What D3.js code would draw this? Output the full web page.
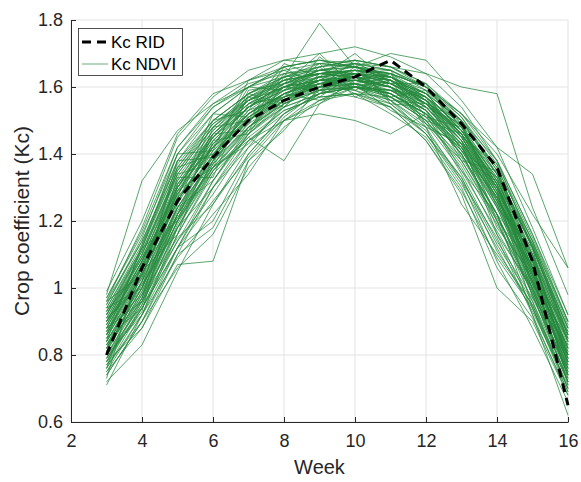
<!DOCTYPE html>
<html>
<head>
<meta charset="utf-8">
<script src="https://cdn.jsdelivr.net/npm/d3@7"></script>
<style>
html,body{margin:0;padding:0;background:#fff;}
svg{display:block;font-family:"Liberation Sans",Arial,Helvetica,sans-serif;}
</style>
</head>
<body>
<svg id="chart" width="581" height="482"></svg>
<script>
// ---- data ----
const weeks = [3,4,5,6,7,8,9,10,11,12,13,14,15,16];
const kcRID = [0.80,1.06,1.26,1.39,1.50,1.56,1.60,1.63,1.68,1.60,1.49,1.36,1.08,0.65];
const kcNDVI = [
  [0.98,1.32,1.47,1.55,1.60,1.66,1.68,1.66,1.62,1.55,1.44,1.25,1.02,0.78],
  [0.72,0.83,1.05,1.25,1.40,1.52,1.60,1.64,1.63,1.58,1.47,1.31,1.06,0.80],
  [0.78,0.88,1.07,1.08,1.38,1.50,1.58,1.60,1.58,1.52,1.42,1.22,0.98,0.72],
  [0.82,0.98,1.20,1.35,1.45,1.38,1.55,1.60,1.62,1.55,1.45,1.28,1.05,0.80],
  [0.90,1.10,1.35,1.48,1.58,1.63,1.79,1.66,1.63,1.58,1.47,1.30,1.08,0.82],
  [0.92,1.12,1.38,1.50,1.58,1.64,1.66,1.68,1.66,1.64,1.60,1.58,1.24,0.98],
  [0.88,1.08,1.30,1.45,1.55,1.62,1.64,1.66,1.65,1.60,1.52,1.42,1.34,1.06],
  [0.80,0.95,1.18,1.35,1.46,1.54,1.58,1.60,1.56,1.48,1.25,1.10,0.95,0.70],
  [0.84,1.02,1.22,1.36,1.44,1.50,1.52,1.50,1.46,1.52,1.40,1.22,1.00,0.74],
  [0.95,1.15,1.42,1.55,1.62,1.68,1.70,1.72,1.69,1.64,1.54,1.38,1.12,0.86],
  [0.93,1.12,1.40,1.52,1.60,1.66,1.68,1.66,1.70,1.68,1.56,1.42,1.18,0.92],
  [0.90,1.06,1.32,1.46,1.56,1.60,1.64,1.65,1.64,1.60,1.52,1.40,1.22,1.06],
  [0.74,0.90,1.10,1.30,1.44,1.52,1.58,1.60,1.58,1.52,1.40,1.22,0.92,0.62],
  [0.76,0.92,1.12,1.30,1.42,1.50,1.56,1.58,1.55,1.46,1.32,1.08,0.88,0.66],
  [0.78,0.94,1.16,1.34,1.45,1.53,1.57,1.58,1.54,1.44,1.28,1.00,0.90,0.68],
  [0.96,1.18,1.45,1.57,1.65,1.68,1.67,1.66,1.64,1.60,1.50,1.34,1.10,0.84],
  [0.99,1.20,1.46,1.58,1.62,1.66,1.68,1.67,1.63,1.56,1.46,1.30,1.06,0.82],
  [0.71,0.92,1.18,1.38,1.50,1.58,1.62,1.64,1.62,1.56,1.45,1.30,1.04,0.78],
  [0.86,1.04,1.26,1.42,1.52,1.58,1.62,1.63,1.61,1.56,1.46,1.30,1.08,0.80],
  [0.82,1.00,1.22,1.38,1.50,1.57,1.61,1.64,1.62,1.57,1.48,1.32,1.10,0.84],
  [0.90,1.08,1.30,1.46,1.55,1.60,1.63,1.62,1.60,1.54,1.43,1.26,1.02,0.76],
  [0.94,1.12,1.36,1.50,1.58,1.63,1.65,1.64,1.61,1.56,1.47,1.33,1.12,0.88],
  [0.76,0.94,1.14,1.32,1.46,1.55,1.60,1.62,1.61,1.57,1.49,1.36,1.14,0.86],
  [0.88,1.06,1.28,1.44,1.54,1.61,1.65,1.66,1.63,1.57,1.45,1.28,1.04,0.74],
  [0.84,1.02,1.24,1.40,1.52,1.59,1.63,1.65,1.64,1.60,1.50,1.34,1.12,0.86],
  [0.80,0.97,1.20,1.37,1.49,1.56,1.61,1.63,1.60,1.54,1.42,1.24,1.00,0.72],
  [0.92,1.10,1.34,1.48,1.57,1.62,1.64,1.63,1.60,1.53,1.41,1.24,1.01,0.78],
  [0.86,1.06,1.30,1.45,1.54,1.59,1.61,1.60,1.57,1.51,1.41,1.27,1.06,0.82],
  [0.78,0.96,1.20,1.40,1.52,1.60,1.65,1.67,1.65,1.59,1.48,1.30,1.06,0.78],
  [0.89,1.08,1.28,1.42,1.51,1.57,1.60,1.61,1.59,1.54,1.44,1.29,1.09,0.85],
  [0.95,1.14,1.38,1.52,1.60,1.65,1.67,1.66,1.62,1.55,1.43,1.26,1.03,0.79],
  [0.83,1.00,1.25,1.43,1.54,1.60,1.62,1.61,1.58,1.52,1.43,1.30,1.10,0.86],
  [0.74,0.90,1.12,1.32,1.47,1.56,1.61,1.63,1.62,1.58,1.50,1.38,1.16,0.90],
  [0.87,1.05,1.27,1.41,1.50,1.56,1.59,1.60,1.58,1.52,1.40,1.22,0.98,0.72],
  [0.91,1.10,1.33,1.47,1.56,1.62,1.66,1.68,1.66,1.61,1.52,1.38,1.16,0.92],
  [0.81,0.99,1.22,1.39,1.50,1.58,1.63,1.65,1.63,1.57,1.46,1.28,1.03,0.76],
  [0.97,1.16,1.40,1.54,1.61,1.64,1.65,1.64,1.61,1.55,1.44,1.27,1.04,0.80],
  [0.85,1.03,1.24,1.38,1.48,1.55,1.59,1.61,1.60,1.56,1.47,1.33,1.13,0.88],
  [0.79,0.96,1.18,1.36,1.48,1.56,1.60,1.61,1.58,1.51,1.38,1.20,0.96,0.70],
  [0.93,1.11,1.35,1.49,1.57,1.61,1.63,1.64,1.63,1.59,1.50,1.35,1.12,0.87],
  [0.88,1.07,1.31,1.46,1.55,1.60,1.62,1.62,1.59,1.53,1.42,1.25,1.02,0.77],
  [0.75,0.92,1.16,1.35,1.48,1.57,1.62,1.64,1.63,1.58,1.47,1.31,1.08,0.81],
  [0.90,1.09,1.32,1.47,1.57,1.63,1.66,1.67,1.65,1.60,1.49,1.32,1.09,0.83],
  [0.84,1.01,1.23,1.39,1.50,1.57,1.61,1.62,1.60,1.55,1.46,1.32,1.11,0.85],
  [0.82,1.00,1.21,1.37,1.48,1.55,1.59,1.60,1.57,1.50,1.39,1.22,0.99,0.74],
  [0.96,1.14,1.37,1.50,1.58,1.62,1.64,1.65,1.64,1.60,1.51,1.37,1.15,0.90],
  [0.87,1.04,1.26,1.42,1.53,1.60,1.64,1.65,1.62,1.56,1.45,1.29,1.05,0.79],
  [0.77,0.95,1.19,1.38,1.51,1.59,1.63,1.64,1.62,1.56,1.44,1.27,1.03,0.75],
  [0.91,1.09,1.31,1.45,1.54,1.59,1.62,1.63,1.62,1.58,1.50,1.36,1.14,0.89],
  [0.86,1.05,1.29,1.44,1.54,1.61,1.65,1.66,1.64,1.58,1.47,1.31,1.07,0.81],
  [0.80,0.98,1.24,1.41,1.52,1.58,1.61,1.61,1.58,1.52,1.41,1.25,1.01,0.74],
  [0.94,1.13,1.36,1.49,1.56,1.60,1.62,1.62,1.60,1.55,1.46,1.31,1.08,0.84],
  [0.83,1.02,1.26,1.43,1.54,1.61,1.65,1.67,1.66,1.61,1.51,1.35,1.12,0.86],
  [0.89,1.07,1.29,1.43,1.52,1.58,1.61,1.62,1.61,1.57,1.48,1.34,1.13,0.88],
  [0.78,0.97,1.22,1.40,1.51,1.58,1.62,1.63,1.60,1.53,1.42,1.26,1.02,0.76],
  [0.92,1.11,1.34,1.48,1.56,1.61,1.64,1.65,1.63,1.57,1.46,1.29,1.05,0.80],
  [0.85,1.04,1.28,1.45,1.56,1.63,1.67,1.68,1.66,1.60,1.48,1.31,1.06,0.79],
  [0.81,0.99,1.20,1.36,1.47,1.54,1.58,1.60,1.59,1.55,1.47,1.34,1.14,0.90],
  [0.97,1.17,1.42,1.54,1.60,1.63,1.64,1.63,1.60,1.54,1.43,1.27,1.04,0.80],
  [0.87,1.06,1.30,1.46,1.56,1.62,1.64,1.64,1.61,1.55,1.44,1.28,1.05,0.79],
  [0.83,0.97,1.29,1.36,1.55,1.57,1.66,1.59,1.64,1.54,1.49,1.26,1.10,0.77],
  [0.90,1.03,1.36,1.40,1.49,1.64,1.58,1.65,1.57,1.59,1.41,1.33,1.01,0.85],
  [0.76,1.05,1.16,1.44,1.46,1.61,1.60,1.68,1.60,1.50,1.46,1.20,1.07,0.73],
  [0.94,1.00,1.33,1.33,1.58,1.55,1.69,1.61,1.63,1.56,1.38,1.35,0.97,0.83],
  [0.86,1.12,1.20,1.48,1.50,1.66,1.59,1.66,1.56,1.55,1.50,1.24,1.12,0.71],
  [0.79,0.93,1.31,1.42,1.60,1.59,1.67,1.57,1.62,1.48,1.43,1.18,1.04,0.87],
  [0.92,1.09,1.25,1.50,1.53,1.67,1.63,1.70,1.61,1.61,1.45,1.37,0.99,0.75],
  [0.81,1.02,1.38,1.39,1.57,1.54,1.64,1.63,1.58,1.53,1.35,1.22,1.09,0.80],
  [0.88,0.96,1.22,1.46,1.47,1.63,1.57,1.64,1.65,1.51,1.48,1.29,0.94,0.69],
  [0.73,1.08,1.34,1.37,1.59,1.61,1.70,1.60,1.59,1.57,1.39,1.32,1.13,0.84],
  [0.96,1.04,1.27,1.52,1.51,1.58,1.62,1.67,1.55,1.54,1.44,1.16,1.00,0.78],
  [0.84,1.13,1.40,1.41,1.62,1.65,1.61,1.62,1.64,1.49,1.42,1.27,1.08,0.82],
  [0.77,0.90,1.06,1.16,1.36,1.48,1.56,1.60,1.59,1.53,1.40,1.20,0.98,0.74],
  [0.85,0.94,1.12,1.20,1.40,1.52,1.58,1.61,1.57,1.50,1.36,1.16,0.94,0.72],
  [0.80,0.92,1.09,1.22,1.34,1.50,1.55,1.62,1.60,1.49,1.38,1.21,1.02,0.78],
  [0.88,0.98,1.15,1.25,1.42,1.55,1.61,1.59,1.56,1.46,1.31,1.12,0.93,0.71],
  [0.75,0.88,1.10,1.18,1.38,1.47,1.60,1.63,1.57,1.52,1.34,1.14,0.97,0.76],
  [0.83,0.96,1.14,1.28,1.44,1.53,1.57,1.58,1.52,1.45,1.30,1.06,0.91,0.69],
  [0.91,1.01,1.18,1.30,1.46,1.56,1.62,1.60,1.55,1.47,1.33,1.13,0.96,0.73],
  [0.79,0.94,1.12,1.26,1.39,1.51,1.59,1.57,1.54,1.44,1.29,1.09,0.94,0.70],
  [0.86,1.00,1.24,1.32,1.48,1.58,1.56,1.61,1.53,1.48,1.32,1.15,0.92,0.68],
  [0.93,1.06,1.21,1.36,1.43,1.54,1.63,1.58,1.57,1.50,1.37,1.19,1.00,0.77],
  [0.82,1.04,1.27,1.39,1.53,1.57,1.60,1.59,1.54,1.46,1.33,1.11,0.95,0.72],
  [0.89,1.08,1.30,1.42,1.50,1.60,1.59,1.63,1.56,1.49,1.35,1.17,0.99,0.75]
];
const xTicks = [2,4,6,8,10,12,14,16];
const yTicks = [0.6,0.8,1.0,1.2,1.4,1.6,1.8];
const xLabel = "Week";
const yLabel = "Crop coefficient (Kc)";
const legendLabels = ["Kc RID","Kc NDVI"];

// ---- layout ----
const svg = d3.select("#chart");
const L = 71, R = 568, T = 20, B = 422;
const x = d3.scaleLinear().domain([2,16]).range([L,R]);
const y = d3.scaleLinear().domain([0.6,1.8]).range([B,T]);
const axisColor = "#262626";
const gridColor = "#e3e3e3";
const green = "#24883c";

// grid
const grid = svg.append("g");
grid.selectAll(".gx").data(xTicks).join("line")
  .attr("x1",d=>x(d)).attr("x2",d=>x(d)).attr("y1",T).attr("y2",B)
  .attr("stroke",gridColor).attr("stroke-width",1);
grid.selectAll(".gy").data(yTicks).join("line")
  .attr("x1",L).attr("x2",R).attr("y1",d=>y(d)).attr("y2",d=>y(d))
  .attr("stroke",gridColor).attr("stroke-width",1);

// lines
const line = d3.line().x((d,i)=>x(weeks[i])).y(d=>y(d));
const plot = svg.append("g");
plot.selectAll("path.ndvi").data(kcNDVI).join("path")
  .attr("class","ndvi")
  .attr("d",line)
  .attr("fill","none")
  .attr("stroke",green)
  .attr("stroke-opacity",0.75)
  .attr("stroke-width",1)
  .attr("stroke-linejoin","miter");
plot.append("path").datum(kcRID)
  .attr("d",line)
  .attr("fill","none")
  .attr("stroke","#000")
  .attr("stroke-width",3)
  .attr("stroke-dasharray","9,6");

// axes
const fmt = d => d3.format("~g")(d);
const xAxis = svg.append("g").attr("transform",`translate(0,${B})`)
  .call(d3.axisBottom(x).tickValues(xTicks).tickFormat(fmt).tickSizeInner(-5).tickSizeOuter(0).tickPadding(12));
const yAxis = svg.append("g").attr("transform",`translate(${L},0)`)
  .call(d3.axisLeft(y).tickValues(yTicks).tickFormat(fmt).tickSizeInner(-5).tickSizeOuter(0).tickPadding(8));
[xAxis,yAxis].forEach(a=>{
  a.select(".domain").attr("stroke",axisColor).attr("stroke-width",1);
  a.selectAll(".tick line").attr("stroke",axisColor);
  a.selectAll(".tick text").attr("fill",axisColor).attr("font-size",18)
    .attr("font-family","'Liberation Sans',Arial,sans-serif");
});

// axis labels
svg.append("text").attr("x",(L+R)/2).attr("y",474).attr("text-anchor","middle")
  .attr("font-size",20).attr("fill",axisColor).text(xLabel);
svg.append("text").attr("transform",`translate(29,${(T+B)/2}) rotate(-90)`)
  .attr("text-anchor","middle").attr("font-size",21).attr("fill",axisColor).text(yLabel);

// legend
const lg = svg.append("g");
lg.append("rect").attr("x",78.5).attr("y",28.5).attr("width",104).attr("height",47)
  .attr("fill","#fff").attr("stroke","#262626").attr("stroke-width",0.8);
lg.append("line").attr("x1",82).attr("x2",108).attr("y1",42).attr("y2",42)
  .attr("stroke","#000").attr("stroke-width",3).attr("stroke-dasharray","9,6");
lg.append("line").attr("x1",82).attr("x2",108).attr("y1",64).attr("y2",64)
  .attr("stroke",green).attr("stroke-opacity",0.45).attr("stroke-width",1.5);
lg.selectAll("text.lg").data(legendLabels).join("text")
  .attr("x",111).attr("y",(d,i)=>48+i*22)
  .attr("font-size",17).attr("fill","#000").text(d=>d);
</script>
</body>
</html>
